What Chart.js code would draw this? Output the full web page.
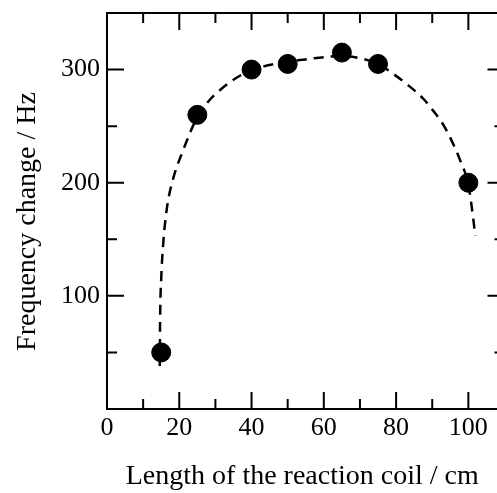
<!DOCTYPE html>
<html>
<head>
<meta charset="utf-8">
<script src="https://cdn.jsdelivr.net/npm/chart.js@4/dist/chart.umd.min.js"></script>
<style>
  html, body { margin: 0; padding: 0; background: #fff; overflow: hidden; }
  #wrap { width: 515px; height: 493px; }
</style>
</head>
<body>
<div id="wrap"><canvas id="coil" width="515" height="493"></canvas></div>
<script>
// measured points
const coilLength = [15, 25, 40, 50, 65, 75, 100];
const freqChange = [50, 260, 300, 305, 315, 305, 200];

// dashed guide curve
const curveX = [14.6, 14.7, 15.0, 15.6, 16.6, 18, 21.1, 25, 28.1, 31.3, 34.1, 37, 40, 45, 50, 55, 60, 65, 70, 75, 79.3, 83, 87.6, 90.3, 93.1, 95.4, 97.7, 100, 101.4, 101.9];
const curveY = [38, 80, 115, 148, 178, 200, 229, 258, 272, 282, 289, 295, 300, 304, 307, 309, 311, 312, 310, 305, 296, 287, 274, 263.5, 251, 237, 220, 198, 167, 153];

// axis ticks
const xLabels = [0, 20, 40, 60, 80, 100];
const xMinor = [10, 30, 50, 70, 90];
const yLabels = [100, 200, 300];
const yMinor = [50, 150, 250];

const serif = 'Liberation Serif';

// box + inward ticks on all four sides
const frameTicks = {
  id: 'frameTicks',
  afterDraw(chart) {
    const ctx = chart.ctx;
    const a = chart.chartArea;
    const xs = chart.scales.x, ys = chart.scales.y;
    ctx.save();
    ctx.strokeStyle = '#000';
    ctx.lineWidth = 2;
    ctx.strokeRect(a.left, a.top, a.right - a.left, a.bottom - a.top);
    const big = 17, small = 10;
    ctx.beginPath();
    xLabels.concat(xMinor).forEach(v => {
      if (v === 0) return;
      const len = xLabels.includes(v) ? big : small;
      const px = xs.getPixelForValue(v);
      ctx.moveTo(px, a.bottom); ctx.lineTo(px, a.bottom - len);
      ctx.moveTo(px, a.top); ctx.lineTo(px, a.top + len);
    });
    yLabels.concat(yMinor).forEach(v => {
      const len = yLabels.includes(v) ? big : small;
      const py = ys.getPixelForValue(v);
      ctx.moveTo(a.left, py); ctx.lineTo(a.left + len, py);
      ctx.moveTo(a.right, py); ctx.lineTo(a.right - len, py);
    });
    ctx.stroke();
    ctx.restore();
  }
};

const coil = document.getElementById('coil').getContext('2d');

new Chart(coil, {
  type: 'scatter',
  data: {
    datasets: [{
      data: coilLength.map((x, i) => ({ x: x, y: freqChange[i] })),
      backgroundColor: '#000',
      borderColor: '#000',
      pointRadius: 9.5,
      pointHoverRadius: 9.5,
      order: 0
    }, {
      type: 'line',
      data: curveX.map((x, i) => ({ x: x, y: curveY[i] })),
      borderColor: '#000',
      borderWidth: 2.5,
      borderDash: [10, 7],
      pointRadius: 0,
      cubicInterpolationMode: 'monotone',
      fill: false,
      order: 1
    }]
  },
  plugins: [frameTicks],
  options: {
    responsive: false,
    animation: false,
    layout: { padding: { top: 13, right: 1, left: 0, bottom: 0 } },
    plugins: {
      legend: { display: false },
      tooltip: { enabled: false }
    },
    scales: {
      x: {
        type: 'linear',
        min: 0,
        max: 110,
        grid: { display: false, drawTicks: false },
        border: { display: false },
        afterBuildTicks: s => { s.ticks = xLabels.map(v => ({ value: v })); },
        afterFit: s => { s.height = 84; s.paddingLeft = 0; s.paddingRight = 0; },
        ticks: {
          color: '#000',
          padding: 4,
          maxRotation: 0,
          font: { family: serif, size: 26 }
        },
        title: {
          display: true,
          text: 'Length of the reaction coil / cm ',
          color: '#000',
          padding: 0,
          font: { family: serif, size: 28 }
        }
      },
      y: {
        min: 0,
        max: 350,
        grid: { display: false, drawTicks: false },
        border: { display: false },
        afterBuildTicks: s => { s.ticks = yLabels.map(v => ({ value: v })); },
        afterFit: s => { s.width = 107; s.paddingTop = 0; s.paddingBottom = 0; },
        ticks: {
          color: '#000',
          padding: 7,
          font: { family: serif, size: 26 }
        },
        title: {
          display: true,
          text: 'Frequency change / Hz   ',
          color: '#000',
          padding: { top: 11, bottom: 0 },
          font: { family: serif, size: 28 }
        }
      }
    }
  }
});
</script>
</body>
</html>
